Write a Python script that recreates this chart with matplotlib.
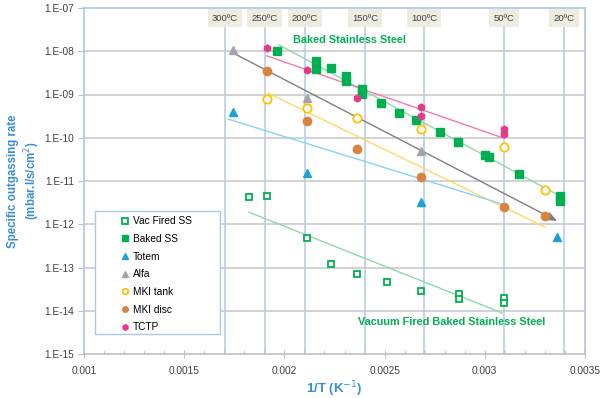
import matplotlib
matplotlib.use("Agg")
import matplotlib.pyplot as plt
import matplotlib.transforms as mtransforms
from matplotlib.patches import Rectangle

plt.rcParams['font.family'] = ['Liberation Sans', 'DejaVu Sans']

# ---------------- data ----------------
vac_x = [0.001823, 0.001913, 0.002113, 0.002232, 0.002362, 0.002512, 0.002682,
         0.002871, 0.002871, 0.003096, 0.003096]
vac_y = [4.3e-12, 4.5e-12, 4.8e-13, 1.2e-13, 7.1e-14, 4.6e-14, 2.9e-14,
         2.4e-14, 1.9e-14, 2.0e-14, 1.5e-14]

baked_x = [0.001963, 0.002158, 0.002158, 0.002232, 0.002307, 0.002307, 0.002387,
           0.002387, 0.002482, 0.002572, 0.002657, 0.002776, 0.002866, 0.003001,
           0.003021, 0.003171, 0.003375, 0.003375]
baked_y = [1.0e-8, 6.0e-9, 3.9e-9, 4.1e-9, 2.7e-9, 2.05e-9, 1.34e-9,
           1.03e-9, 6.4e-10, 3.7e-10, 2.6e-10, 1.36e-10, 8.0e-11, 4.0e-11,
           3.6e-11, 1.45e-11, 4.5e-12, 3.45e-12]

totem_x = [0.001744, 0.002113, 0.002682, 0.003360]
totem_y = [3.9e-10, 1.53e-11, 3.3e-12, 5.1e-13]

alfa_x = [0.001744, 0.002113, 0.002682]
alfa_y = [1.07e-8, 8.3e-10, 4.9e-11]

tank_x = [0.001913, 0.002113, 0.002362, 0.002682, 0.003096, 0.003300]
tank_y = [7.9e-10, 4.9e-10, 2.9e-10, 1.6e-10, 6.1e-11, 6.2e-12]

disc_x = [0.001913, 0.002113, 0.002362, 0.002682, 0.003096, 0.003300]
disc_y = [3.5e-9, 2.4e-10, 5.5e-11, 1.24e-11, 2.5e-12, 1.55e-12]

tctp_x = [0.001913, 0.002113, 0.002362, 0.002682, 0.002682, 0.003096, 0.003096]
tctp_y = [1.19e-8, 3.7e-9, 8.3e-10, 5.1e-10, 3.2e-10, 1.6e-10, 1.22e-10]

# trend line end points
baked_fit_x = [0.001973, 0.003375]
baked_fit_y = [1.4e-8, 4.5e-12]
tctp_fit_x = [0.001913, 0.003091]
tctp_fit_y = [7.8e-9, 9.9e-11]
alfa_fit_x = [0.001744, 0.003361]
alfa_fit_y = [9.1e-9, 1.19e-12]
tank_fit_x = [0.001918, 0.003300]
tank_fit_y = [1.08e-9, 8.6e-13]
totem_fit_x = [0.001719, 0.003111]
totem_fit_y = [2.7e-10, 2.7e-12]
vac_fit_x = [0.001823, 0.003086]
vac_fit_y = [1.9e-12, 8.9e-15]

temp_x = [0.001704, 0.001902, 0.002103, 0.002402, 0.002697, 0.003096, 0.003395]
temp_labels = ['300ºC', '250ºC', '200ºC', '150ºC', '100ºC', '50ºC', '20ºC']

x_ticks = [0.001, 0.0015, 0.002, 0.0025, 0.003, 0.0035]
x_tick_labels = ['0.001', '0.0015', '0.002', '0.0025', '0.003', '0.0035']
y_ticks = [1e-15, 1e-14, 1e-13, 1e-12, 1e-11, 1e-10, 1e-9, 1e-8, 1e-7]
y_tick_labels = ['1.E-15', '1.E-14', '1.E-13', '1.E-12', '1.E-11', '1.E-10',
                 '1.E-09', '1.E-08', '1.E-07']

# ---------------- colours ----------------
GREEN = '#00B050'
TOTEM = '#1BA1D6'
ALFA = '#A5A5A5'
TANK = '#FFC000'
DISC = '#D9843E'
TCTP = '#E8388A'
LABEL_BLUE = '#3A8DD6'
FRAME_BLUE = '#A9C8EA'

fig = plt.figure(figsize=(6.01, 3.98), dpi=100)
ax = fig.add_axes([84 / 601, 1 - 354 / 398, 501 / 601, 346 / 398])
ax.set_yscale('log')
ax.set_xlim(0.001, 0.0035)
ax.set_ylim(1e-15, 1e-7)

# grid lines
for yv in y_ticks[1:-1]:
    ax.axhline(yv, color='#CBCBCB', lw=1.2, zorder=0)
for xv in temp_x:
    ax.axvline(xv, color='#B7CCE8', lw=1.2, zorder=0)

# trend lines
ax.plot(baked_fit_x, baked_fit_y, color='#8FD8A6', lw=1.0, zorder=1)
ax.plot(tctp_fit_x, tctp_fit_y, color='#F07AB0', lw=1.0, zorder=1)
ax.plot(tank_fit_x, tank_fit_y, color='#FFD966', lw=1.0, zorder=1)
ax.plot(totem_fit_x, totem_fit_y, color='#86D3F2', lw=1.0, zorder=1)
ax.plot(vac_fit_x, vac_fit_y, color='#8FD8A6', lw=1.0, zorder=1)
ax.annotate('', xy=(alfa_fit_x[1], alfa_fit_y[1]), xytext=(alfa_fit_x[0], alfa_fit_y[0]),
            arrowprops=dict(arrowstyle='-|>,head_length=0.6,head_width=0.25',
                            color='#7F7F7F', lw=1.0, shrinkA=0, shrinkB=0),
            zorder=1)

# series
ax.plot(vac_x, vac_y, ls='none', marker='s', ms=4.2, mfc='white', mec=GREEN, mew=1.3,
        label='Vac Fired SS', zorder=3)
ax.plot(baked_x, baked_y, ls='none', marker='s', ms=5.2, mfc=GREEN, mec=GREEN,
        label='Baked SS', zorder=3)
ax.plot(totem_x, totem_y, ls='none', marker='^', ms=5.5, mfc=TOTEM, mec=TOTEM,
        label='Totem', zorder=3)
ax.plot(alfa_x, alfa_y, ls='none', marker='^', ms=5.5, mfc=ALFA, mec=ALFA,
        label='Alfa', zorder=3)
ax.plot(tank_x, tank_y, ls='none', marker='o', ms=6, mfc='white', mec=TANK, mew=1.3,
        label='MKI tank', zorder=3)
ax.plot(disc_x, disc_y, ls='none', marker='o', ms=6, mfc=DISC, mec=DISC,
        label='MKI disc', zorder=3)
ax.plot(tctp_x, tctp_y, ls='none', marker='h', ms=5, mfc=TCTP, mec=TCTP,
        label='TCTP', zorder=3)

# temperature labels
trans = mtransforms.blended_transform_factory(ax.transData, ax.transAxes)
for xv, lab in zip(temp_x, temp_labels):
    ax.text(xv, 0.971, lab, transform=trans, ha='center', va='center',
            fontsize=6.8, color='#404040',
            bbox=dict(boxstyle='square,pad=0.45', fc='#EEECE1', ec='none'),
            zorder=5)

ax.text(0.002327, 10 ** -7.74, 'Baked Stainless Steel', color=GREEN, fontsize=7.8,
        fontweight='bold', ha='center', va='center', zorder=5)
ax.text(0.002836, 10 ** -14.26, 'Vacuum Fired Baked Stainless Steel', color=GREEN,
        fontsize=7.8, fontweight='bold', ha='center', va='center', zorder=5)

# axes styling
for side in ['left', 'top', 'right']:
    ax.spines[side].set_color(FRAME_BLUE)
    ax.spines[side].set_linewidth(1.2)
ax.spines['bottom'].set_color('#BFBFBF')
ax.spines['bottom'].set_linewidth(1.2)

ax.set_xticks(x_ticks)
ax.set_xticklabels(x_tick_labels, fontsize=7.3, color='#404040')
ax.set_xticks([0.001 + 0.0001 * i for i in range(26)], minor=True)
ax.tick_params(axis='x', which='major', direction='inout', length=6, color='#BFBFBF', pad=6)
ax.tick_params(axis='x', which='minor', direction='in', length=3, color='#BFBFBF')
ax.set_yticks(y_ticks)
ax.set_yticklabels(y_tick_labels, fontsize=7.3, color='#404040')
ax.yaxis.set_minor_locator(matplotlib.ticker.NullLocator())
ax.tick_params(axis='y', which='major', direction='out', length=4, color='#BFBFBF', pad=3)

ax.set_xlabel('1/T (K$^{-1}$)', color=LABEL_BLUE, fontsize=9.5, fontweight='bold', labelpad=2)
ax.set_ylabel('Specific outgassing rate\n(mbar.l/s/cm$^2$)', color=LABEL_BLUE, fontsize=8.3,
              fontweight='bold', labelpad=2, linespacing=1.25)

# legend frame + legend
frame = Rectangle((0.022, 0.058), 0.2495, 0.355, transform=ax.transAxes, fc='white',
                  ec=FRAME_BLUE, lw=1.0, zorder=6)
ax.add_patch(frame)
leg = ax.legend(loc='upper left', bbox_to_anchor=(0.064, 0.413), fontsize=7.3,
                frameon=False, handlelength=0.8,
                handletextpad=0.35, labelspacing=0.76, borderpad=0.5,
                borderaxespad=0)
for h in leg.legend_handles:
    h.set_markersize(4)
leg.set_zorder(7)

fig.savefig('out.png', dpi=100)
